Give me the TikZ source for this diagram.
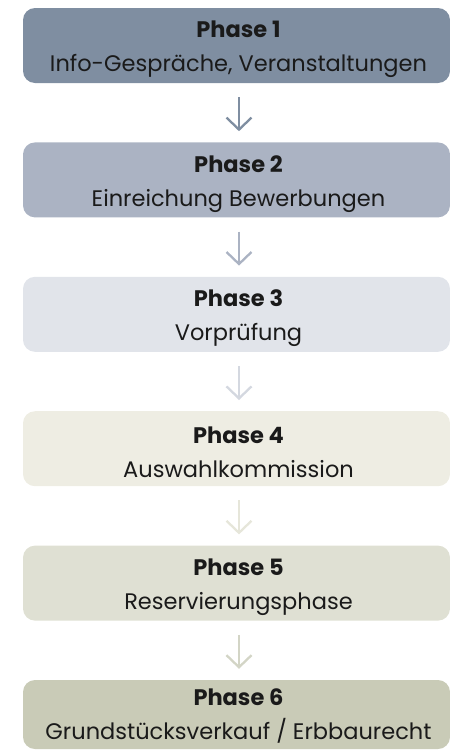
\documentclass[tikz,border=0pt]{standalone}
\usepackage{fontspec}
\setmainfont{Poppins}
\usetikzlibrary{arrows.meta}
\definecolor{cA}{HTML}{7F8EA1}
\definecolor{cB}{HTML}{ABB3C3}
\definecolor{cC}{HTML}{E1E4EA}
\definecolor{cD}{HTML}{EEEDE3}
\definecolor{cE}{HTML}{DFE0D3}
\definecolor{cF}{HTML}{C9CBB7}
\definecolor{aC}{HTML}{D4D8E0}
\definecolor{aD}{HTML}{E6E6DA}
\definecolor{aE}{HTML}{D3D5C6}
\definecolor{txt}{HTML}{1A1A1A}
\begin{document}
\begin{tikzpicture}[x=1pt,y=-1pt,
  phase/.style={rounded corners=12pt, minimum width=427pt, minimum height=75pt,
    inner sep=0pt},
  phtext/.style={inner sep=0pt, align=center, text=txt,
    font=\fontsize{22.5}{34}\selectfont},
  arr/.style={line width=2.3pt, -{Straight Barb[length=12pt,width=25pt]},
    shorten <=14pt, shorten >=11pt}]
\useasboundingbox (0,0) rectangle (450,750);
\node[phase, fill=cA] (p1) at (236.5,45.5) {};
\node[phase, fill=cB] (p2) at (236.5,179.9) {};
\node[phase, fill=cC] (p3) at (236.5,314.3) {};
\node[phase, fill=cD] (p4) at (236.5,448.7) {};
\node[phase, fill=cE] (p5) at (236.5,583.1) {};
\node[phase, fill=cF, minimum height=69pt] (p6) at (236.5,714.5) {};
\node[phtext] (t1) at ([xshift=2pt,yshift=-4pt]p1.center) {\textbf{Phase 1}\\Info-Gespräche, Veranstaltungen};
\node[phtext] (t2) at ([xshift=2pt,yshift=-4pt]p2.center) {\textbf{Phase 2}\\Einreichung Bewerbungen};
\node[phtext] (t3) at ([xshift=2pt,yshift=-4pt]p3.center) {\textbf{Phase 3}\\Vorprüfung};
\node[phtext] (t4) at ([xshift=2pt,yshift=-4pt]p4.center) {\textbf{Phase 4}\\Auswahlkommission};
\node[phtext] (t5) at ([xshift=2pt,yshift=-4pt]p5.center) {\textbf{Phase 5}\\Reservierungsphase};
\node[phtext] (t6) at ([xshift=2pt,yshift=-1.5pt]p6.center) {\textbf{Phase 6}\\Grundstücksverkauf / Erbbaurecht};
\draw[arr, cA] ([xshift=2.5pt]p1.south) -- ([xshift=2.5pt]p2.north);
\draw[arr, cB] ([xshift=2.5pt]p2.south) -- ([xshift=2.5pt]p3.north);
\draw[arr, aC] ([xshift=2.5pt]p3.south) -- ([xshift=2.5pt]p4.north);
\draw[arr, aD] ([xshift=2.5pt]p4.south) -- ([xshift=2.5pt]p5.north);
\draw[arr, aE] ([xshift=2.5pt]p5.south) -- ([xshift=2.5pt]p6.north);
\end{tikzpicture}
\end{document}
